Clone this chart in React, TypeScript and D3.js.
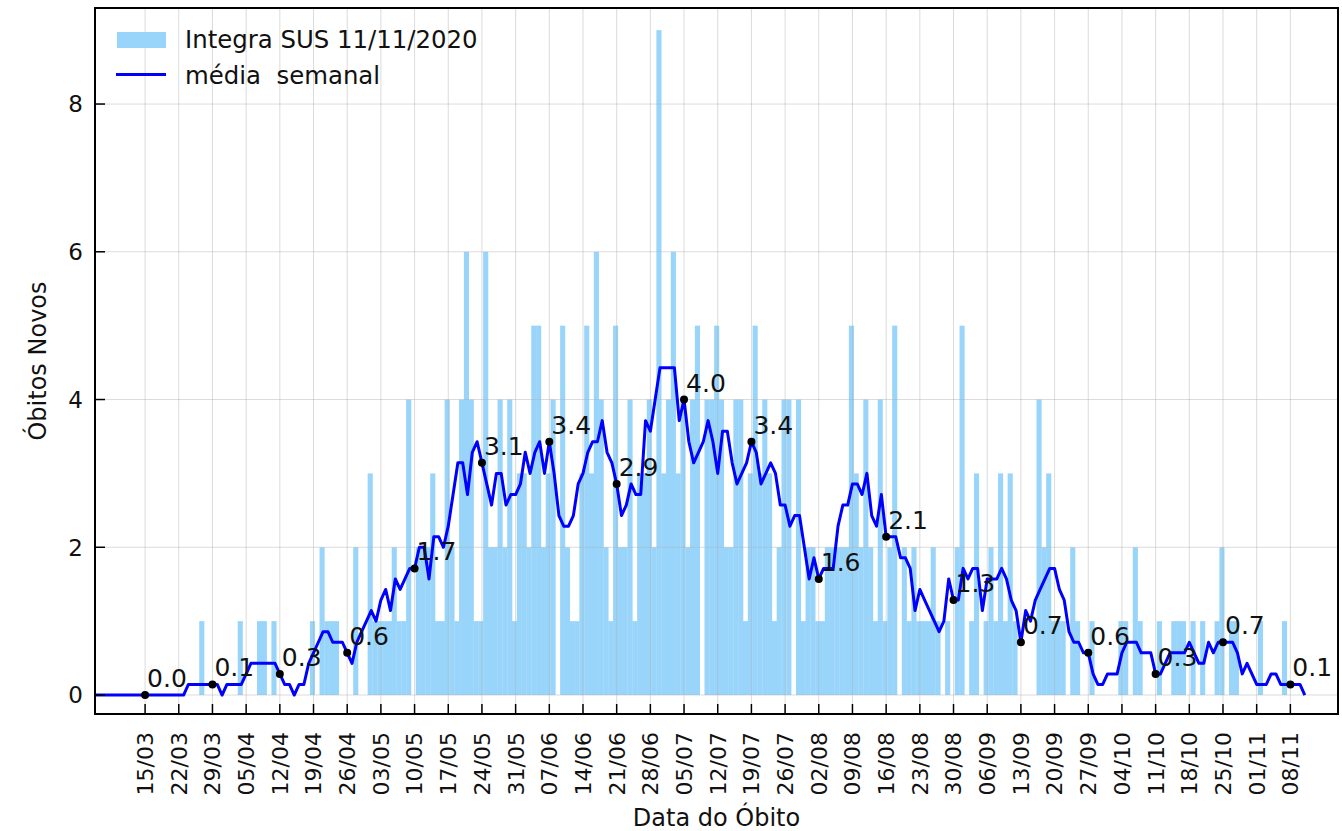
import React from "react";
import * as d3 from "d3";

// daily deaths, first value = 04/03/2020, last = 11/11/2020
const firstDay = [2020, 2, 4];
const obitos: number[] = [
  0, 0, 0, 0, 0, 0, 0, 0, 0, 0, 0,
  0, 0, 0, 0, 0, 0, 0,
  0, 0, 0, 0, 0, 1, 0,
  0, 0, 0, 0, 0, 0, 1,
  0, 0, 0, 1, 1, 0, 1,
  0, 0, 0, 0, 0, 0, 0,
  1, 0, 2, 1, 1, 1, 0,
  0, 0, 2, 0, 0, 3, 1,
  1, 1, 1, 2, 1, 1, 4,
  0, 2, 2, 2, 3, 1, 1,
  4, 2, 1, 4, 6, 4, 1,
  1, 6, 2, 2, 4, 2, 4,
  1, 3, 3, 2, 5, 5, 2,
  3, 4, 0, 5, 2, 1, 1,
  3, 5, 3, 6, 4, 2, 1,
  5, 2, 2, 4, 1, 3, 3,
  4, 2, 9, 3, 4, 6, 3,
  4, 2, 4, 5, 0, 4, 4,
  5, 4, 2, 2, 4, 4, 1,
  3, 5, 3, 4, 3, 1, 2,
  4, 4, 0, 4, 1, 2, 2,
  1, 1, 2, 2, 2, 2, 2,
  5, 3, 2, 4, 2, 1, 4,
  1, 2, 5, 0, 2, 1, 2,
  1, 1, 1, 2, 1, 0, 1,
  0, 2, 5, 0, 1, 3, 0,
  1, 2, 1, 3, 1, 3, 1,
  0, 0, 0, 0, 4, 2, 3,
  1, 1, 1, 0, 2, 1, 0,
  0, 1, 0, 0, 0, 0, 0,
  1, 1, 0, 2, 1, 0, 0,
  0, 1, 0, 0, 1, 1, 1,
  0, 1, 0, 1, 0, 0, 1,
  2, 0, 1, 1, 0, 0, 0,
  0, 1, 0, 0, 0, 0, 1,
  0, 0, 0, 0,
];

const xTickLabels = [
  "15/03", "22/03", "29/03", "05/04", "12/04", "19/04", "26/04", "03/05", "10/05",
  "17/05", "24/05", "31/05", "07/06", "14/06", "21/06", "28/06", "05/07", "12/07",
  "19/07", "26/07", "02/08", "09/08", "16/08", "23/08", "30/08", "06/09", "13/09",
  "20/09", "27/09", "04/10", "11/10", "18/10", "25/10", "01/11", "08/11",
];
const marcos = [
  "15/03", "29/03", "12/04", "26/04", "10/05", "24/05", "07/06", "21/06", "05/07",
  "19/07", "02/08", "16/08", "30/08", "13/09", "27/09", "11/10", "25/10", "08/11",
];
const yTicks = [0, 2, 4, 6, 8];
const legendBar = "Integra SUS 11/11/2020";
const legendLine = "média  semanal";

const DAY = 86400000;
const parseDM = (s: string) => {
  const [d, m] = s.split("/").map(Number);
  return new Date(Date.UTC(2020, m - 1, d));
};

export default function App() {
  const W = 1342, H = 831;
  const L = 95, R = 1338, T = 8, B = 714;
  const t0 = Date.UTC(firstDay[0], firstDay[1], firstDay[2]);
  const ref = Date.UTC(2020, 2, 15);
  const x = d3
    .scaleUtc()
    .domain([new Date(ref - 10.41 * DAY), new Date(ref + 247.9 * DAY)])
    .range([L, R]);
  const y = d3.scaleLinear().domain([-0.257, 9.3]).range([B, T]);

  const rows = obitos.map((v, i) => {
    let s = 0;
    for (let j = i - 3; j <= i + 3; j++) s += obitos[j] ?? 0;
    return { t: t0 + i * DAY, v, m: s / 7 };
  });
  const byTime = new Map(rows.map((r) => [r.t, r]));

  const line = d3
    .line<{ t: number; m: number }>()
    .x((d) => x(new Date(d.t)))
    .y((d) => y(d.m));

  const font = "DejaVu Sans, sans-serif";
  const txt = "#111";
  const fmt = d3.format(".1f");

  return (
    <svg width={W} height={H} style={{ position: "absolute", left: 0, top: 0, background: "#fff" }} fontFamily={font}>
      <defs>
        <clipPath id="plotclip">
          <rect x={L} y={T} width={R - L} height={B - T} />
        </clipPath>
      </defs>
      <rect x={0} y={0} width={W} height={H} fill="#fff" />
      <g clipPath="url(#plotclip)">
        {rows
          .filter((r) => r.v > 0)
          .map((r, i) => {
            const x0 = x(new Date(r.t - 0.75 * DAY));
            const x1 = x(new Date(r.t + 0.25 * DAY));
            return (
              <rect key={i} x={x0} y={y(r.v)} width={x1 - x0 + 0.3} height={y(0) - y(r.v)} fill="#99D5FA" />
            );
          })}
        {xTickLabels.map((s) => (
          <line key={s} x1={x(parseDM(s))} x2={x(parseDM(s))} y1={T} y2={B} stroke="#b0b0b0" strokeOpacity={0.45} strokeWidth={1} />
        ))}
        {yTicks.map((v) => (
          <line key={v} x1={L} x2={R} y1={y(v)} y2={y(v)} stroke="#b0b0b0" strokeOpacity={0.45} strokeWidth={1} />
        ))}
        <path d={line(rows) || ""} fill="none" stroke="#0000FF" strokeWidth={3} strokeLinejoin="round" />
        {marcos.map((s) => {
          const r = byTime.get(parseDM(s).getTime())!;
          const cx = x(new Date(r.t));
          const cy = y(r.m);
          return (
            <g key={s}>
              <circle cx={cx} cy={cy} r={4} fill="#000" />
              <text x={cx + 2} y={cy - 8} fontSize={25} fill={txt}>
                {fmt(r.m)}
              </text>
            </g>
          );
        })}
      </g>
      {/* ticks */}
      {xTickLabels.map((s) => (
        <g key={s}>
          <line x1={x(parseDM(s))} x2={x(parseDM(s))} y1={B} y2={B - 10} stroke="#000" strokeWidth={1.5} />
          <text
            transform={`translate(${x(parseDM(s))},${B + 18}) rotate(-90)`}
            textAnchor="end"
            dy="0.36em"
            fontSize={22}
            fill={txt}
          >
            {s}
          </text>
        </g>
      ))}
      {yTicks.map((v) => (
        <g key={v}>
          <line x1={L} x2={L + 10} y1={y(v)} y2={y(v)} stroke="#000" strokeWidth={1.5} />
          <text x={L - 12} y={y(v)} dy="0.36em" textAnchor="end" fontSize={23} fill={txt}>
            {v}
          </text>
        </g>
      ))}
      <rect x={L} y={T} width={R - L} height={B - T} fill="none" stroke="#000" strokeWidth={2} />
      {/* axis labels */}
      <text x={(L + R) / 2} y={826} textAnchor="middle" fontSize={24} fill={txt}>
        Data do Óbito
      </text>
      <text transform={`translate(46,${(T + B) / 2}) rotate(-90)`} textAnchor="middle" fontSize={24} fill={txt}>
        Óbitos Novos
      </text>
      {/* legend */}
      <rect x={117} y={32} width={49} height={16} fill="#99D5FA" />
      <text x={185} y={47.5} fontSize={24.4} fill={txt} style={{ whiteSpace: "pre" }}>
        {legendBar}
      </text>
      <line x1={116} x2={166} y1={74.5} y2={74.5} stroke="#0000FF" strokeWidth={3} />
      <text x={185} y={84} fontSize={24.4} fill={txt} style={{ whiteSpace: "pre" }} xmlSpace="preserve">
        {legendLine}
      </text>
    </svg>
  );
}
